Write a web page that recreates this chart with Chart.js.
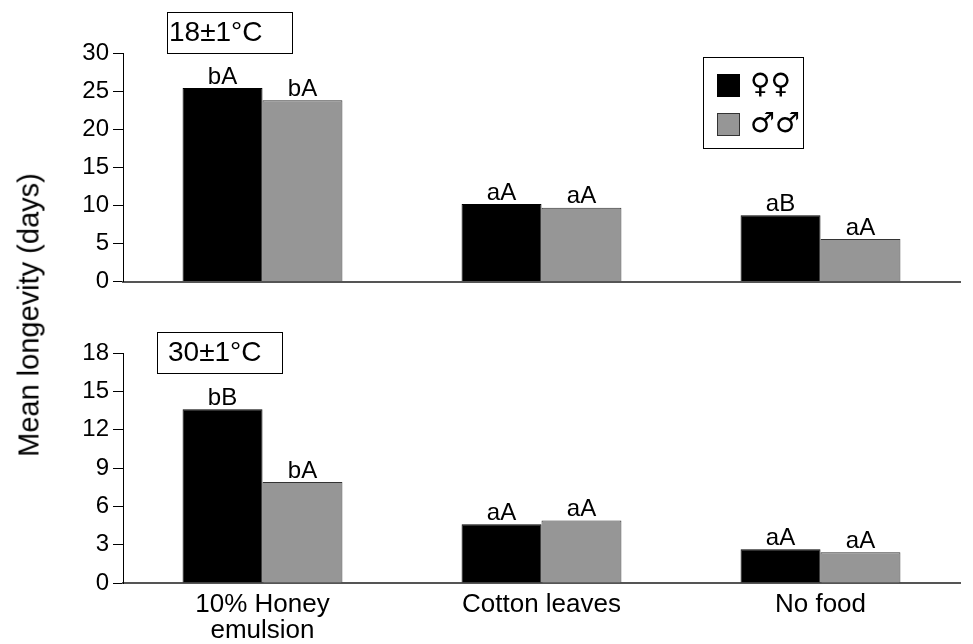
<!DOCTYPE html>
<html>
<head>
<meta charset="utf-8">
<script src="https://cdn.jsdelivr.net/npm/chart.js@4"></script>
<style>
  html, body { margin: 0; padding: 0; background: #fff; }
  #wrap { position: relative; width: 973px; height: 644px; overflow: hidden; }
  #c1 { position: absolute; left: 0; top: 0; }
  #c2 { position: absolute; left: 0; top: 300px; }
  #ytitle {
    position: absolute; left: 29px; top: 315px;
    transform: translate(-50%, -50%) rotate(-90deg);
    font-family: "Liberation Sans", Arial, sans-serif; font-size: 29px; color: #000;
    white-space: nowrap;
  }
</style>
</head>
<body>
<div id="wrap">
  <canvas id="c1" width="973" height="300"></canvas>
  <canvas id="c2" width="973" height="344"></canvas>
  <div id="ytitle">Mean longevity (days)</div>
</div>
<script>
// ---- data ----
const categories = [['10% Honey', 'emulsion'], 'Cotton leaves', 'No food'];
const seriesNames = ['♀♀', '♂♂'];
const females18 = [25.4, 10.2, 8.7];
const males18 = [23.8, 9.7, 5.6];
const females30 = [13.6, 4.6, 2.65];
const males30 = [7.9, 4.9, 2.4];
const letters18F = ['bA', 'aA', 'aB'];
const letters18M = ['bA', 'aA', 'aA'];
const letters30F = ['bB', 'aA', 'aA'];
const letters30M = ['bA', 'aA', 'aA'];
const ticks18 = [0, 5, 10, 15, 20, 25, 30];
const ticks30 = [0, 3, 6, 9, 12, 15, 18];
const tempLabels = ['18±1°C', '30±1°C'];

const FONT = '"Liberation Sans", Arial, sans-serif';
const BLACK = '#000000';
const GREY = '#969696';

const barLetters = {
  id: 'barLetters',
  afterDatasetsDraw(chart, args, opts) {
    const ctx = chart.ctx;
    ctx.save();
    ctx.font = '24px ' + FONT;
    ctx.fillStyle = '#000';
    ctx.textAlign = 'center';
    ctx.textBaseline = 'bottom';
    opts.letters.forEach((arr, i) => {
      const meta = chart.getDatasetMeta(i);
      meta.data.forEach((bar, j) => {
        ctx.fillText(arr[j], bar.x, bar.y + 1);
      });
    });
    ctx.restore();
  }
};

const tempBox = {
  id: 'tempBox',
  afterDraw(chart, args, o) {
    const ctx = chart.ctx;
    ctx.save();
    ctx.fillStyle = '#fff';
    ctx.fillRect(o.x, o.y, o.w, o.h);
    ctx.strokeStyle = '#000';
    ctx.lineWidth = 1;
    ctx.strokeRect(o.x + 0.5, o.y + 0.5, o.w, o.h);
    ctx.fillStyle = '#000';
    ctx.font = '28px ' + FONT;
    ctx.textAlign = 'left';
    ctx.textBaseline = 'middle';
    ctx.fillText(o.text, o.tx, o.y + o.h / 2 + 1);
    ctx.restore();
  }
};

const sexLegend = {
  id: 'sexLegend',
  afterDraw(chart, args, o) {
    if (!o.show) return;
    const ctx = chart.ctx;
    ctx.save();
    ctx.strokeStyle = '#000';
    ctx.lineWidth = 1;
    ctx.strokeRect(o.x + 0.5, o.y + 0.5, o.w, o.h);
    chart.data.datasets.forEach((ds, i) => {
      const sy = o.y + 17 + i * 39;
      ctx.fillStyle = ds.backgroundColor;
      ctx.fillRect(o.x + 14, sy, 23, 23);
      ctx.strokeStyle = ds.borderColor;
      ctx.strokeRect(o.x + 14.5, sy + 0.5, 22, 22);
      ctx.fillStyle = '#000';
      ctx.font = '28px "DejaVu Sans", ' + FONT;
      ctx.textAlign = 'left';
      ctx.textBaseline = 'middle';
      ctx.fillText(ds.label, o.x + 47, sy + 12);
    });
    ctx.restore();
  }
};

function makeChart(id, fData, mData, letters, ticksArr, showX, xHeight, temp, legend) {
  return new Chart(document.getElementById(id), {
    type: 'bar',
    data: {
      labels: categories,
      datasets: [
        { label: seriesNames[0], data: fData, backgroundColor: BLACK, borderColor: '#000', borderWidth: 1 },
        { label: seriesNames[1], data: mData, backgroundColor: GREY, borderColor: '#333', borderWidth: 1 }
      ]
    },
    options: {
      responsive: false,
      animation: false,
      devicePixelRatio: 1,
      layout: { padding: { top: 53, right: 13, bottom: 0, left: 0 } },
      datasets: { bar: { barPercentage: 1, categoryPercentage: 0.573 } },
      plugins: {
        legend: { display: false },
        tooltip: { enabled: false },
        barLetters: { letters: letters },
        tempBox: temp,
        sexLegend: legend
      },
      scales: {
        x: {
          grid: { display: true, drawOnChartArea: false, drawTicks: false },
          border: { color: '#555', width: 2 },
          ticks: {
            display: showX,
            color: '#000',
            padding: 9,
            font: { family: FONT, size: 26, lineHeight: 1.0 }
          },
          afterFit(s) { s.height = xHeight; }
        },
        y: {
          min: ticksArr[0],
          max: ticksArr[ticksArr.length - 1],
          afterBuildTicks(s) { s.ticks = ticksArr.map(v => ({ value: v })); },
          grid: { display: true, drawOnChartArea: false, drawTicks: true, tickLength: 10, color: '#000', tickWidth: 1 },
          border: { color: '#000', width: 1 },
          ticks: { color: '#000', padding: 4, font: { family: FONT, size: 24 } },
          afterFit(s) { s.width = 123; }
        }
      }
    },
    plugins: [barLetters, tempBox, sexLegend]
  });
}

makeChart('c1', females18, males18, [letters18F, letters18M], ticks18, false, 17,
  { text: tempLabels[0], x: 167, y: 12, w: 125, h: 41, tx: 169 },
  { show: true, x: 703, y: 57, w: 100, h: 91 });
makeChart('c2', females30, males30, [letters30F, letters30M], ticks30, true, 61,
  { text: tempLabels[1], x: 157, y: 32, w: 125, h: 41, tx: 168 },
  { show: false });
</script>
</body>
</html>
